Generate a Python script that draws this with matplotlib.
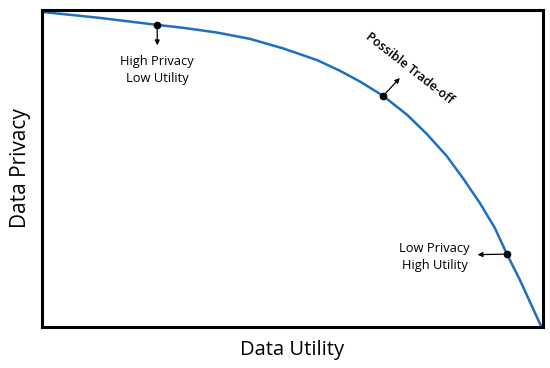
import matplotlib.pyplot as plt

# curve (utility vs privacy, 0-100 scale)
utility = [0, 11.6, 23.0, 28.1, 34.9, 41.5, 48.1, 54.9, 59.5, 63.5, 68.1,
           72.9, 76.8, 80.8, 84.0, 87.4, 90.4, 92.8, 95.4, 99.6]
privacy = [99.4, 97.5, 95.3, 94.4, 92.9, 90.9, 87.9, 84.2, 80.8, 77.4, 72.9,
           66.9, 60.9, 53.9, 47.0, 39.1, 31.2, 23.0, 14.8, 0.3]

# highlighted points
pt_x = [23.0, 68.1, 92.8]
pt_y = [95.3, 72.9, 23.0]

plt.rcParams['font.family'] = ['Open Sans', 'DejaVu Sans']

fig = plt.figure(figsize=(5.5, 3.68), dpi=100)
ax = fig.add_axes([42 / 550, 41 / 368, 501 / 550, 317 / 368])

ax.plot(utility, privacy, color='#1f6fc0', lw=1.8, solid_joinstyle='round')
ax.plot(pt_x, pt_y, 'o', color='black', ms=4.5)

arrow = dict(arrowstyle='-|>', color='black', lw=0.9, mutation_scale=7)
ax.annotate('', xy=(23.0, 88.0), xytext=(pt_x[0], pt_y[0]), arrowprops=arrow)
ax.annotate('', xy=(71.8, 79.2), xytext=(pt_x[1], pt_y[1]), arrowprops=arrow)
ax.annotate('', xy=(86.4, 22.8), xytext=(pt_x[2], pt_y[2]), arrowprops=arrow)

ax.text(23.0, 81.0, 'High Privacy\nLow Utility', ha='center', va='center',
        fontsize=9.3, linespacing=1.4)
ax.text(73.3, 81.7, 'Possible Trade-off', ha='center', va='center',
        fontsize=9, fontweight='semibold', rotation=-38, rotation_mode='anchor')
ax.text(78.4, 22.1, 'Low Privacy\nHigh Utility', ha='center', va='center',
        fontsize=9.3, linespacing=1.4)

ax.set_xlim(0, 100)
ax.set_ylim(0, 100)
ax.set_xticks([])
ax.set_yticks([])
for s in ax.spines.values():
    s.set_linewidth(2.2)
    s.set_color('black')

ax.set_xlabel('Data Utility', fontsize=14.5, labelpad=9)
ax.set_ylabel('Data Privacy', fontsize=15, labelpad=8)

fig.savefig('out.png', dpi=100)
